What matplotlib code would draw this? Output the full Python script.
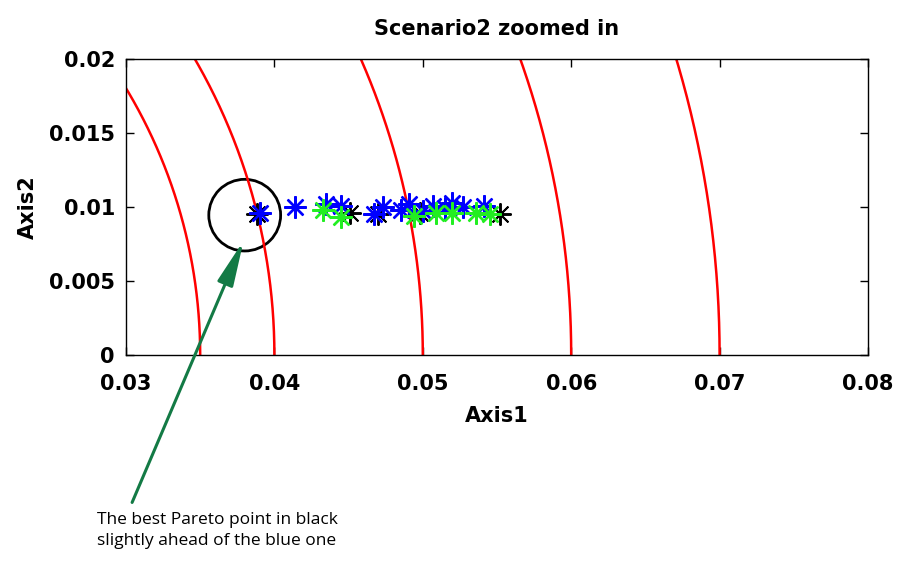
import numpy as np
import matplotlib
matplotlib.use('Agg')
import matplotlib.pyplot as plt
from matplotlib.patches import Circle

# level curves (radius around the origin)
radii = [0.035, 0.04, 0.05, 0.06, 0.07]

# pareto points per run
blue_x = [0.0390, 0.0414, 0.0435, 0.0445, 0.0467, 0.0473, 0.0485, 0.0491, 0.0500, 0.0507, 0.0515, 0.0520, 0.0527, 0.0541]
blue_y = [0.0096, 0.0100, 0.0102, 0.0101, 0.0095, 0.0100, 0.0098, 0.0102, 0.0097, 0.0101, 0.0099, 0.0103, 0.0100, 0.0101]
green_x = [0.0433, 0.0445, 0.0494, 0.0509, 0.0520, 0.0536, 0.0545]
green_y = [0.0098, 0.0093, 0.0094, 0.0096, 0.0096, 0.0096, 0.0095]
black_x = [0.0388, 0.0451, 0.0470, 0.0498, 0.0552]
black_y = [0.0095, 0.0096, 0.0095, 0.0096, 0.0095]

best = (0.0380, 0.00945)
xticks = [0.03, 0.04, 0.05, 0.06, 0.07, 0.08]
yticks = [0, 0.005, 0.01, 0.015, 0.02]

fig = plt.figure(figsize=(8.98, 5.61), dpi=100)
ax = fig.add_axes([0.1403, 0.3672, 0.8263, 0.5276])

t = np.linspace(0, np.pi / 2, 400)
for r in radii:
    ax.plot(r * np.cos(t), r * np.sin(t), color='red', lw=1.8)

star = (8, 2, 0)
ax.plot(black_x, black_y, ls='none', marker=star, ms=16, mew=1.4, color='black')
ax.plot(blue_x, blue_y, ls='none', marker=star, ms=16, mew=1.7, color='blue')
ax.plot(green_x, green_y, ls='none', marker=star, ms=16, mew=1.7, color='#22ee22')

ax.add_patch(Circle(best, 0.00242, fill=False, ec='black', lw=2))

ax.set_xlim(0.03, 0.08)
ax.set_ylim(0, 0.02)
ax.set_xticks(xticks)
ax.set_yticks(yticks)
ax.set_xticklabels(['0.03', '0.04', '0.05', '0.06', '0.07', '0.08'])
ax.set_yticklabels(['0', '0.005', '0.01', '0.015', '0.02'])
ax.tick_params(axis='both', direction='in', top=True, right=True, length=6, width=1, labelsize=15)
ax.tick_params(axis='x', pad=14)
ax.tick_params(axis='y', pad=8)
for lab in ax.get_xticklabels() + ax.get_yticklabels():
    lab.set_fontweight('bold')
for s in ax.spines.values():
    s.set_linewidth(1)

ax.set_title('Scenario2 zoomed in', fontsize=15, fontweight='bold', pad=17)
ax.set_xlabel('Axis1', fontsize=15, fontweight='bold', labelpad=8)
ax.set_ylabel('Axis2', fontsize=15, fontweight='bold', labelpad=8)

ax.annotate('', xy=(0.0380, 0.0079), xycoords='data',
            xytext=(0.1459, 0.0998), textcoords='figure fraction',
            arrowprops=dict(arrowstyle='-|>,head_length=1.1,head_width=0.2',
                            color='#137a45', lw=2.2, mutation_scale=25),
            annotation_clip=False)
fig.text(0.108, 0.088, 'The best Pareto point in black\nslightly ahead of the blue one',
         fontsize=12.5, family=['Open Sans', 'DejaVu Sans'], va='top', ha='left', linespacing=1.45)

fig.savefig('out.png', dpi=100)
